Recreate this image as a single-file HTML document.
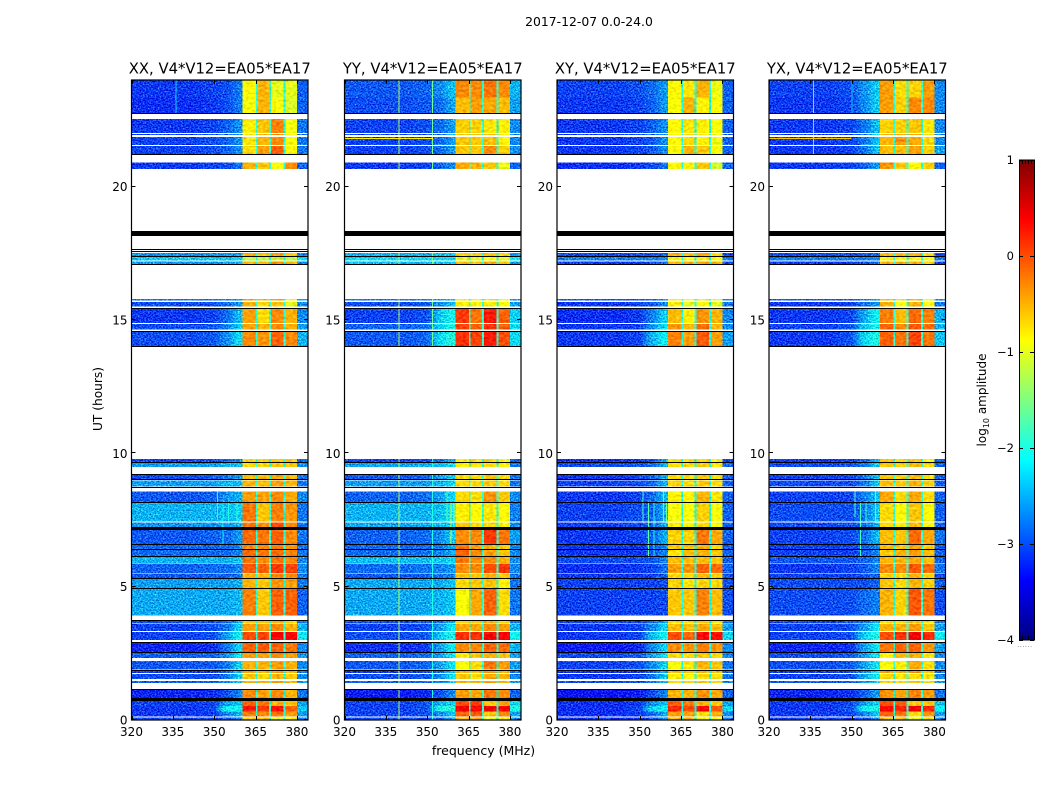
<!DOCTYPE html>
<html>
<head>
<meta charset="utf-8">
<title>2017-12-07 spectrogram</title>
<style>
html,body{margin:0;padding:0;background:#fff;width:1050px;height:800px;overflow:hidden}
svg{display:block;font-family:"DejaVu Sans","Liberation Sans",sans-serif;fill:#000}
</style>
</head>
<body>
<svg id="figure" width="1050" height="800" viewBox="0 0 1050 800" xmlns="http://www.w3.org/2000/svg">
<defs>
<filter id="speckle" filterUnits="userSpaceOnUse" x="100" y="70" width="880" height="660" color-interpolation-filters="sRGB">
<feGaussianBlur in="SourceGraphic" stdDeviation="4 0" result="soft"/>
<feComponentTransfer in="soft" result="solid"><feFuncA type="linear" slope="100"/></feComponentTransfer>
<feTurbulence type="fractalNoise" baseFrequency="0.6 0.7" numOctaves="2" seed="7" result="n"/>
<feColorMatrix in="n" type="matrix" values="1 0 0 0 0 1 0 0 0 0 1 0 0 0 0 0 0 0 0 1" result="g"/>
<feComposite in="solid" in2="g" operator="arithmetic" k1="0" k2="1" k3="1.1" k4="-0.55" result="c"/>
<feComposite in="c" in2="SourceAlpha" operator="in"/>
</filter>
<filter id="speckle-soft" filterUnits="userSpaceOnUse" x="100" y="70" width="880" height="660" color-interpolation-filters="sRGB">
<feTurbulence type="fractalNoise" baseFrequency="0.3 0.4" numOctaves="2" seed="11" result="n"/>
<feColorMatrix in="n" type="matrix" values="1 0 0 0 0 1 0 0 0 0 1 0 0 0 0 0 0 0 0 1" result="g"/>
<feComposite in="SourceGraphic" in2="g" operator="arithmetic" k1="0" k2="1" k3="0.4" k4="-0.2" result="c"/>
<feComposite in="c" in2="SourceAlpha" operator="in"/>
</filter>
</defs>
<text x="589" y="26" text-anchor="middle" font-size="12.4">2017-12-07 0.0-24.0</text>
<text x="483.5" y="755" text-anchor="middle" font-size="12.5">frequency (MHz)</text>
<text x="0" y="0" transform="translate(102,399) rotate(-90)" text-anchor="middle" font-size="12.2">UT (hours)</text>
<text x="0" y="0" transform="translate(986,400) rotate(-90)" text-anchor="middle" font-size="12">log<tspan font-size="8" dy="3">10</tspan><tspan dy="-3"> amplitude</tspan></text>
<g id="panels"></g>
<g id="colorbar"></g>
</svg>
<script>
// ---- data ----
const panelTitles = ["XX, V4*V12=EA05*EA17","YY, V4*V12=EA05*EA17","XY, V4*V12=EA05*EA17","YX, V4*V12=EA05*EA17"];
const freqTicks = [320,335,350,365,380];
const utTicks = [0,5,10,15,20];
const cbarTicks = [1,0,-1,-2,-3,-4];
const cbarLabels = ["1","0","\u22121","\u22122","\u22123","\u22124"];
// frequency channels (MHz): low, mid, rampA, rampB, blockA, blockB, blockC, blockD, edge
const channelStart = [320,345,352,357,360.3,365.7,370.5,375.8,380];
const channelEnd   = [345,352,357,360.3,365.1,369.9,375.2,380,384];
// narrow gaps between blocks (MHz)
const gapStart = [365.1,369.9,375.2];
const gapEnd   = [365.7,370.5,375.8];
const gapLevels = [-1.9,-1.9,-2.0,-1.9];
// observation rows (UT hours)
const rowStart = [0,0.13,0.32,0.52,0.81,1.39,1.53,1.77,1.89,2.32,2.55,3.00,3.34,3.62,3.91,4.95,5.33,5.51,5.89,6.14,6.42,6.59,7.22,7.44,8.18,8.75,9.04,9.49,9.68,14.03,14.64,14.89,15.50,15.73,17.10,17.24,17.39,20.66,21.23,21.57,21.94,22.02,22.77,23.35];
const rowEnd   = [0.09,0.32,0.52,0.72,1.14,1.46,1.73,1.87,2.21,2.53,2.88,3.30,3.60,3.72,4.92,5.30,5.49,5.87,6.11,6.39,6.56,7.13,7.40,8.15,8.56,8.98,9.19,9.64,9.78,14.56,14.85,15.41,15.67,15.78,17.20,17.36,17.52,20.90,21.53,21.87,21.97,22.53,23.35,24];
// black flagged rows (UT hours)
const flagStart = [0.72,1.14,1.87,2.53,2.88,3.72,4.92,5.30,6.11,6.39,6.56,7.13,8.15,8.72,9.01,9.19,9.65,13.98,14.56,15.41,17.07,17.36,17.54,17.64,18.15,21.17,22.71];
const flagEnd   = [0.81,1.17,1.89,2.55,2.92,3.75,4.95,5.33,6.14,6.42,6.59,7.22,8.18,8.75,9.04,9.22,9.68,14.03,14.60,15.45,17.10,17.39,17.58,17.68,18.34,21.23,22.77];
// log10 amplitude per row and channel
const valuesXX = [
[-3.0,-3.0,-3.0,-2.8,-0.6,-0.6,-1.0,-0.8,-2.8],
[-3.1,-3.1,-2.7,-2.5,-0.25,-0.3,-0.2,-0.4,-2.6],
[-3.1,-3.05,-2.1,-2.1,0.25,0.1,0.3,-0.1,-2.4],
[-3.05,-3.05,-2.6,-2.4,-0.1,-0.2,-0.5,-0.6,-2.6],
[-3.2,-3.15,-3.0,-2.7,-0.3,-0.4,-0.3,-0.5,-2.8],
[-2.9,-2.9,-2.7,-2.4,-0.5,-0.5,-0.4,-0.5,-2.6],
[-3.0,-3.0,-2.8,-2.3,-0.6,-0.7,-0.5,-0.6,-2.7],
[-3.1,-3.1,-2.9,-2.4,-0.4,-0.5,-0.4,-0.5,-2.8],
[-2.95,-2.95,-2.8,-2.3,-0.5,-0.5,-0.4,-0.5,-2.7],
[-2.9,-2.9,-2.7,-2.2,-0.4,-0.4,-0.3,-0.4,-2.6],
[-3.2,-3.15,-2.8,-2.3,-0.1,-0.05,-0.1,-0.2,-2.7],
[-3.05,-3.0,-2.6,-2.1,0.0,0.05,0.4,0.4,-2.2],
[-3.05,-3.0,-2.8,-2.3,-0.4,-0.4,-0.3,-0.5,-2.5],
[-3.0,-3.0,-2.9,-2.5,-0.6,-0.6,-0.5,-0.7,-2.8],
[-2.55,-2.55,-2.55,-2.45,-0.25,-0.6,-0.1,-0.1,-2.9],
[-2.6,-2.6,-2.6,-2.5,-0.5,-0.6,-0.35,-0.4,-2.8],
[-2.95,-2.9,-2.9,-2.8,-0.5,-0.5,-0.3,-0.3,-2.8],
[-2.9,-2.85,-2.85,-2.7,-0.05,-0.1,0.1,0.05,-2.7],
[-2.5,-2.5,-2.5,-2.4,-0.2,-0.3,-0.2,-0.3,-2.7],
[-2.85,-2.85,-2.85,-2.7,-0.15,-0.2,-0.15,-0.25,-2.8],
[-2.85,-2.85,-2.85,-2.7,-0.3,-0.3,-0.25,-0.35,-2.8],
[-2.95,-2.9,-2.85,-2.6,-0.15,-0.2,-0.1,-0.3,-2.8],
[-2.65,-2.65,-2.6,-2.5,-0.2,-0.3,0.0,-0.3,-2.8],
[-2.5,-2.5,-2.45,-2.35,-0.2,-0.6,-0.25,-0.35,-2.8],
[-2.95,-2.9,-2.65,-2.5,-0.4,-0.4,-0.3,-0.45,-2.7],
[-2.6,-2.6,-2.5,-2.45,-0.5,-0.55,-0.4,-0.5,-2.8],
[-3.0,-2.95,-2.8,-2.6,-0.55,-0.55,-0.45,-0.55,-2.8],
[-2.6,-2.6,-2.5,-2.4,-0.7,-0.7,-0.6,-0.6,-2.7],
[-3.05,-3.0,-2.85,-2.7,-0.7,-0.7,-0.6,-0.6,-2.8],
[-3.0,-2.95,-2.7,-2.25,-0.3,-0.35,-0.1,-0.3,-2.5],
[-3.0,-2.95,-2.75,-2.35,-0.4,-0.5,-0.3,-0.5,-2.6],
[-3.1,-3.05,-2.85,-2.4,-0.4,-0.7,-0.3,-0.5,-2.7],
[-3.0,-3.0,-2.85,-2.6,-0.5,-0.7,-0.6,-1.0,-2.7],
[-2.8,-2.8,-2.75,-2.6,-0.4,-0.5,-0.4,-0.8,-2.6],
[-2.65,-2.65,-2.6,-2.55,-0.5,-0.5,-0.3,-0.5,-2.7],
[-2.4,-2.4,-2.4,-2.35,-1.2,-1.2,-1.1,-1.2,-2.3],
[-2.65,-2.65,-2.6,-2.55,-0.5,-0.6,-0.4,-0.6,-2.7],
[-3.1,-3.05,-3.0,-2.8,-0.5,-0.6,-0.9,-0.3,-2.9],
[-3.05,-3.0,-2.9,-2.65,-0.7,-0.4,-0.1,-0.85,-2.8],
[-3.05,-3.0,-2.9,-2.65,-0.75,-0.5,-0.3,-0.9,-2.8],
[-3.05,-3.0,-2.9,-2.65,-0.75,-0.5,-0.3,-0.9,-2.8],
[-3.1,-3.05,-2.9,-2.65,-0.8,-0.6,-0.25,-0.9,-2.8],
[-3.15,-3.1,-3.0,-2.75,-0.9,-0.5,-0.9,-1.05,-2.9],
[-3.1,-3.05,-3.0,-2.75,-0.85,-0.5,-1.0,-1.0,-2.9]];
const valuesYY = [
[-3.0,-3.0,-2.9,-2.6,-0.5,-0.4,-1.0,-0.8,-2.6],
[-3.05,-3.0,-2.7,-2.4,-0.1,-0.1,-0.6,-0.3,-2.6],
[-3.05,-3.0,-2.0,-1.95,0.45,0.35,0.45,0.35,-2.0],
[-3.05,-3.0,-2.5,-2.3,0.0,0.1,-0.6,-0.4,-2.3],
[-3.25,-3.2,-3.0,-2.7,-0.4,-0.45,-0.2,-0.3,-2.9],
[-2.9,-2.9,-2.7,-2.4,-0.5,-0.5,-0.4,-0.5,-2.6],
[-3.0,-2.95,-2.7,-2.2,-0.6,-0.7,-0.45,-0.5,-2.7],
[-3.1,-3.05,-2.8,-2.4,-0.5,-0.5,-0.4,-0.5,-2.8],
[-2.95,-2.9,-2.6,-2.2,-0.9,-0.7,-0.2,-0.4,-2.6],
[-2.9,-2.85,-2.6,-2.2,-0.8,-0.6,-0.5,-0.6,-2.6],
[-3.15,-3.1,-2.6,-2.15,-0.3,-0.3,-0.1,-0.15,-2.5],
[-3.0,-2.95,-2.4,-2.0,0.15,0.15,0.45,0.4,-2.1],
[-3.05,-3.0,-2.6,-2.2,-0.45,-0.45,-0.3,-0.4,-2.5],
[-3.0,-3.0,-2.85,-2.5,-0.65,-0.6,-0.5,-0.7,-2.8],
[-2.55,-2.55,-2.5,-2.4,-0.9,-0.45,-0.1,-0.7,-2.8],
[-2.55,-2.55,-2.55,-2.4,-0.7,-0.6,-0.6,-0.8,-2.8],
[-2.95,-2.9,-2.85,-2.7,-0.6,-0.6,-0.5,-0.6,-2.8],
[-2.85,-2.8,-2.75,-2.6,-0.3,-0.3,0.0,0.1,-2.7],
[-2.45,-2.45,-2.4,-2.3,-0.2,-0.3,-0.3,-0.5,-2.7],
[-2.85,-2.8,-2.75,-2.5,-0.1,-0.3,-0.4,-0.6,-2.7],
[-2.85,-2.85,-2.75,-2.5,-0.2,-0.4,-0.5,-0.65,-2.7],
[-2.9,-2.85,-2.7,-2.35,-0.3,-0.3,0.1,-0.2,-2.6],
[-2.55,-2.55,-2.45,-2.3,-0.6,-0.7,-0.7,-0.8,-2.7],
[-2.5,-2.5,-2.45,-2.2,-0.8,-0.85,-0.75,-0.85,-2.75],
[-2.9,-2.85,-2.6,-2.3,-0.7,-0.7,-0.35,-0.6,-2.7],
[-2.6,-2.6,-2.5,-2.3,-0.7,-0.7,-0.6,-0.7,-2.8],
[-2.95,-2.9,-2.6,-2.4,-0.7,-0.7,-0.6,-0.7,-2.8],
[-2.55,-2.5,-2.45,-2.3,-0.8,-0.75,-0.7,-0.8,-2.8],
[-3.05,-3.0,-2.8,-2.5,-0.8,-0.7,-0.7,-0.85,-2.9],
[-2.95,-2.9,-2.3,-1.95,0.15,0.05,0.25,0.0,-2.3],
[-2.9,-2.85,-2.35,-2.0,0.05,-0.1,0.15,-0.1,-2.3],
[-3.05,-3.0,-2.4,-2.05,0.1,-0.2,0.25,-0.1,-2.35],
[-3.0,-2.95,-2.7,-2.4,-0.8,-0.8,-0.8,-0.9,-2.6],
[-2.8,-2.75,-2.6,-2.4,-0.8,-0.8,-0.7,-0.9,-2.6],
[-2.45,-2.45,-2.4,-2.4,-0.55,-0.55,-0.45,-0.55,-2.6],
[-2.3,-2.3,-2.3,-2.3,-1.0,-1.0,-0.9,-1.0,-2.2],
[-2.5,-2.5,-2.45,-2.4,-0.65,-0.65,-0.6,-0.7,-2.6],
[-3.1,-3.05,-2.9,-2.7,-0.45,-0.5,-0.6,-0.95,-2.9],
[-3.05,-3.0,-2.85,-2.6,-0.6,-0.6,-0.3,-0.65,-2.7],
[-3.05,-3.0,-2.85,-2.6,-0.6,-0.6,-0.55,-0.8,-2.7],
[-3.05,-3.0,-2.85,-2.6,-0.6,-0.6,-0.55,-0.8,-2.7],
[-3.05,-3.0,-2.85,-2.6,-0.65,-0.65,-0.75,-0.8,-2.7],
[-3.0,-2.95,-2.85,-2.55,-0.55,-0.4,-0.45,-0.55,-2.6],
[-2.95,-2.9,-2.7,-2.4,-0.3,-0.3,-0.2,-0.3,-2.5]];
const valuesXY = [
[-3.1,-3.1,-3.0,-2.7,-0.5,-0.5,-0.9,-0.8,-2.8],
[-3.15,-3.1,-2.85,-2.5,-0.4,-0.4,-0.7,-0.5,-2.7],
[-3.15,-3.05,-2.3,-2.15,0.2,0.0,0.35,-0.05,-2.3],
[-3.15,-3.1,-2.7,-2.4,-0.1,-0.25,-0.5,-0.6,-2.6],
[-3.3,-3.25,-3.0,-2.7,-0.5,-0.5,-0.35,-0.45,-2.9],
[-3.0,-3.0,-2.8,-2.5,-0.7,-0.7,-0.6,-0.7,-2.7],
[-3.1,-3.05,-2.8,-2.35,-0.8,-0.8,-0.7,-0.75,-2.8],
[-3.15,-3.1,-2.9,-2.5,-0.5,-0.6,-0.5,-0.55,-2.9],
[-3.05,-3.0,-2.7,-2.3,-0.9,-0.75,-0.5,-0.6,-2.8],
[-3.0,-2.95,-2.6,-2.25,-0.7,-0.7,-0.6,-0.7,-2.7],
[-3.25,-3.2,-2.7,-2.3,-0.3,-0.35,-0.25,-0.35,-2.7],
[-3.1,-3.05,-2.45,-2.1,0.0,-0.1,0.35,0.3,-2.3],
[-3.1,-3.05,-2.7,-2.3,-0.55,-0.55,-0.45,-0.55,-2.6],
[-3.05,-3.05,-2.9,-2.55,-0.7,-0.7,-0.6,-0.75,-2.8],
[-3.05,-3.05,-3.05,-3.0,-0.6,-0.6,-0.25,-0.55,-3.0],
[-3.05,-3.05,-3.05,-3.0,-0.65,-0.75,-0.65,-0.7,-3.0],
[-3.1,-3.1,-3.05,-2.9,-0.7,-0.7,-0.55,-0.65,-3.0],
[-3.15,-3.1,-3.05,-2.8,-0.4,-0.35,-0.1,-0.15,-2.9],
[-3.0,-3.0,-2.95,-2.7,-0.55,-0.55,-0.55,-0.6,-2.9],
[-3.1,-3.1,-3.0,-2.7,-0.75,-0.55,-0.5,-0.6,-2.9],
[-3.1,-3.1,-2.95,-2.7,-0.6,-0.6,-0.5,-0.7,-2.9],
[-3.1,-3.05,-2.9,-2.5,-0.65,-0.65,-0.2,-0.45,-2.9],
[-3.05,-3.0,-2.9,-2.5,-0.8,-0.85,-0.7,-0.9,-2.9],
[-3.05,-3.0,-2.9,-2.5,-0.9,-0.9,-0.65,-0.9,-2.9],
[-3.1,-3.05,-2.85,-2.45,-0.8,-0.8,-0.5,-0.75,-2.9],
[-3.05,-3.0,-2.9,-2.45,-0.65,-0.7,-0.6,-0.7,-2.9],
[-3.1,-3.05,-2.9,-2.5,-0.7,-0.7,-0.6,-0.7,-2.9],
[-3.0,-2.95,-2.9,-2.45,-0.75,-0.7,-0.65,-0.75,-2.9],
[-3.15,-3.1,-2.95,-2.5,-0.8,-0.75,-0.7,-0.85,-3.0],
[-3.1,-3.05,-2.5,-2.15,-0.25,-0.4,-0.05,-0.4,-2.6],
[-3.1,-3.05,-2.65,-2.25,-0.35,-0.5,-0.15,-0.5,-2.7],
[-3.15,-3.1,-2.75,-2.3,-0.55,-0.8,-0.35,-0.5,-2.7],
[-3.1,-3.05,-2.95,-2.65,-0.8,-1.0,-0.9,-1.0,-2.8],
[-2.95,-2.95,-2.9,-2.6,-0.8,-0.9,-0.8,-1.0,-2.7],
[-3.1,-3.1,-3.0,-2.85,-0.5,-0.5,-0.4,-0.5,-3.0],
[-2.75,-2.75,-2.75,-2.7,-0.9,-0.9,-0.8,-0.9,-2.8],
[-3.0,-3.0,-2.95,-2.85,-0.5,-0.6,-0.45,-0.7,-3.0],
[-3.15,-3.1,-3.0,-2.8,-0.85,-0.8,-0.6,-1.1,-2.9],
[-3.1,-3.05,-2.95,-2.65,-0.85,-0.5,-0.6,-0.9,-2.9],
[-3.1,-3.05,-2.95,-2.65,-0.85,-0.7,-0.8,-0.95,-2.9],
[-3.1,-3.05,-2.95,-2.65,-0.85,-0.7,-0.8,-0.95,-2.9],
[-3.1,-3.05,-2.9,-2.65,-0.85,-0.75,-0.8,-0.9,-2.9],
[-3.1,-3.05,-2.9,-2.6,-0.9,-0.5,-0.8,-0.9,-2.9],
[-3.05,-3.0,-2.85,-2.6,-0.85,-0.75,-0.5,-0.95,-2.9]];
const valuesYX = [
[-3.05,-3.05,-3.0,-2.7,-0.6,-0.6,-1.0,-0.8,-2.7],
[-3.1,-3.05,-2.75,-2.4,-0.1,-0.2,-0.7,-0.35,-2.6],
[-3.1,-3.0,-2.1,-2.0,0.35,0.2,0.45,0.2,-2.1],
[-3.1,-3.05,-2.6,-2.3,0.0,-0.05,-0.6,-0.6,-2.4],
[-3.2,-3.15,-2.9,-2.6,-0.35,-0.4,-0.25,-0.4,-2.8],
[-2.95,-2.95,-2.6,-2.3,-0.65,-0.7,-0.6,-0.7,-2.6],
[-3.05,-3.0,-2.55,-2.15,-0.7,-0.75,-0.7,-0.75,-2.7],
[-3.1,-3.05,-2.65,-2.25,-0.4,-0.45,-0.35,-0.6,-2.8],
[-3.0,-2.95,-2.6,-2.2,-0.9,-0.8,-0.45,-0.7,-2.7],
[-3.0,-2.95,-2.6,-2.2,-0.85,-0.55,-0.5,-0.75,-2.7],
[-3.2,-3.15,-2.6,-2.2,-0.2,-0.1,-0.1,-0.35,-2.6],
[-3.05,-3.0,-2.35,-2.0,0.0,0.15,0.45,0.2,-2.2],
[-3.05,-3.0,-2.6,-2.2,-0.5,-0.5,-0.4,-0.6,-2.6],
[-3.05,-3.0,-2.85,-2.5,-0.7,-0.7,-0.6,-0.75,-2.8],
[-3.0,-3.0,-2.85,-2.75,-0.5,-0.65,-0.05,-0.2,-3.0],
[-3.0,-3.0,-3.0,-2.9,-0.6,-0.7,-0.5,-0.65,-2.9],
[-3.05,-3.05,-3.0,-2.85,-0.65,-0.7,-0.5,-0.7,-3.0],
[-3.1,-3.05,-2.95,-2.7,-0.3,-0.3,-0.05,-0.15,-2.8],
[-2.95,-2.95,-2.9,-2.7,-0.5,-0.5,-0.45,-0.55,-2.9],
[-3.05,-3.05,-2.95,-2.7,-0.6,-0.5,-0.4,-0.55,-2.9],
[-3.05,-3.05,-2.9,-2.7,-0.55,-0.6,-0.45,-0.65,-2.9],
[-3.05,-3.0,-2.85,-2.45,-0.55,-0.6,-0.15,-0.45,-2.8],
[-3.0,-3.0,-2.85,-2.45,-0.7,-0.8,-0.55,-0.85,-2.9],
[-3.0,-3.0,-2.8,-2.4,-0.7,-0.85,-0.6,-0.85,-2.9],
[-3.05,-3.05,-2.75,-2.4,-0.45,-0.7,-0.45,-0.7,-2.9],
[-3.0,-3.0,-2.8,-2.35,-0.55,-0.6,-0.5,-0.65,-2.9],
[-3.05,-3.05,-2.8,-2.45,-0.6,-0.65,-0.55,-0.7,-2.9],
[-3.0,-2.95,-2.8,-2.35,-0.6,-0.65,-0.55,-0.7,-2.9],
[-3.1,-3.05,-2.85,-2.45,-0.6,-0.7,-0.6,-0.8,-2.9],
[-3.1,-3.0,-2.3,-2.0,-0.1,-0.2,0.05,-0.2,-2.4],
[-3.05,-3.0,-2.4,-2.05,-0.1,-0.3,-0.05,-0.15,-2.5],
[-3.1,-3.05,-2.55,-2.1,-0.25,-0.55,-0.15,-0.25,-2.5],
[-3.1,-3.05,-2.85,-2.6,-0.5,-0.9,-0.5,-0.85,-2.8],
[-2.95,-2.95,-2.8,-2.55,-0.55,-0.7,-0.5,-0.85,-2.7],
[-3.1,-3.1,-3.0,-2.85,-0.5,-0.5,-0.45,-0.6,-3.0],
[-2.75,-2.75,-2.75,-2.7,-0.85,-0.9,-0.85,-0.9,-2.8],
[-3.0,-3.0,-2.95,-2.85,-0.55,-0.55,-0.5,-0.7,-3.0],
[-3.1,-3.05,-2.9,-2.6,-0.35,-0.6,-0.85,-0.65,-2.9],
[-3.1,-3.05,-2.8,-2.4,-0.55,-0.55,-0.4,-0.65,-2.6],
[-3.1,-3.05,-2.8,-2.4,-0.5,-0.35,-0.45,-0.7,-2.7],
[-3.1,-3.05,-2.8,-2.4,-0.5,-0.45,-0.45,-0.7,-2.7],
[-3.1,-3.05,-2.8,-2.4,-0.65,-0.65,-0.6,-0.75,-2.7],
[-3.1,-3.05,-2.7,-2.35,-0.4,-0.65,-0.3,-0.3,-2.7],
[-3.05,-3.0,-2.65,-2.35,-0.4,-0.7,-0.65,-0.4,-2.7]];
const panelValues = [valuesXX,valuesYY,valuesXY,valuesYX];
// narrow spectral lines: frequency MHz, UT from, UT to, level
const linesXX = [[336,22.7,24,-2.3],[351,7.5,8.6,-2.0],[353,6.6,8.2,-2.1],[355,7.4,8.2,-2.0],[358,7.4,8.2,-1.9]];
const linesYY = [[339.6,0,24,-1.3],[351.7,14,24,-1.6],[351.7,0,10,-2.0],[357,7.4,8.6,-1.7],[358.5,6.6,8.2,-1.2],[359.5,7.4,8.2,-1.2]];
const linesXY = [[351,7.4,8.6,-1.8],[353,6.1,8.2,-1.7],[355,6.1,8.2,-2.0],[358.5,7.4,8.6,-1.7],[359.5,7.4,8.2,-1.6]];
const linesYX = [[336,21,24,-1.9],[350,22.7,24,-2.4],[351,7.6,8.6,-1.8],[353,6.1,8.2,-1.8],[355,7.4,8.2,-1.9],[358.5,7.4,8.6,-1.7]];
const panelLines = [linesXX,linesYY,linesXY,linesYX];
// narrow interference rows: UT, MHz from, MHz to, level
const rfiXX = [];
const rfiYY = [[21.83,320,352,-0.8]];
const rfiXY = [];
const rfiYX = [[21.83,320,350,-0.6]];
const panelRfi = [rfiXX,rfiYY,rfiXY,rfiYX];

// ---- geometry & scales ----
const SVGNS = "http://www.w3.org/2000/svg";
const panelLeft = [131.5,344.5,557,769];
const plotW = 176.5, plotTop = 80, plotBottom = 720;
const cbX0 = 1019, cbX1 = 1034, cbTop = 160, cbBottom = 640;
function xScale(f, left){ return left + (f - 320) * plotW / 64; }
function yScale(ut){ return plotBottom - ut * (plotBottom - plotTop) / 24; }
function cbScale(v){ return cbBottom - (v + 4) * (cbBottom - cbTop) / 5; }
function jet(level){
  const v = Math.max(0, Math.min(1, (level + 4) / 5));
  const ramp = (c) => Math.max(0, Math.min(1, 1.5 - Math.abs(4 * v - c)));
  const ch = (x) => Math.round(x * 255);
  return "rgb(" + ch(ramp(3)) + "," + ch(ramp(2)) + "," + ch(ramp(1)) + ")";
}
function make(tag, parent){
  const n = document.createElementNS(SVGNS, tag);
  parent.appendChild(n);
  return n;
}
function box(parent, x, y, w, h, fill){
  const r = make("rect", parent);
  r.setAttribute("x", x.toFixed(2));
  r.setAttribute("y", y.toFixed(2));
  r.setAttribute("width", Math.max(w, 0.5).toFixed(2));
  r.setAttribute("height", Math.max(h, 0.5).toFixed(2));
  r.setAttribute("fill", fill);
  r.setAttribute("shape-rendering", "crispEdges");
  return r;
}
function tick(parent, x1, y1, x2, y2){
  const l = make("line", parent);
  l.setAttribute("x1", x1);
  l.setAttribute("y1", y1);
  l.setAttribute("x2", x2);
  l.setAttribute("y2", y2);
  l.setAttribute("stroke", "#000");
  l.setAttribute("stroke-width", "1");
  l.setAttribute("shape-rendering", "crispEdges");
  return l;
}
function label(parent, x, y, anchor, size, str){
  const t = make("text", parent);
  t.setAttribute("x", x);
  t.setAttribute("y", y);
  t.setAttribute("text-anchor", anchor);
  t.setAttribute("font-size", size);
  t.textContent = str;
  return t;
}

// ---- panels ----
const panelsRoot = document.getElementById("panels");
panelTitles.forEach(function(title, p){
  const left = panelLeft[p], right = left + plotW;
  const g = make("g", panelsRoot);
  
  

  const noisy = make("g", g);
  noisy.setAttribute("filter", "url(#speckle)");
  
  
  const bright = make("g", g);
  bright.setAttribute("filter", "url(#speckle-soft)");
  
  

  panelValues[p].forEach(function(row, i){
    const y0 = yScale(rowEnd[i]), y1 = yScale(rowStart[i]);
    row.forEach(function(level, c){
      const x0 = xScale(channelStart[c], left), x1 = xScale(channelEnd[c], left);
      const isBlock = c >= 4 && c <= 7;
      const cell = box(isBlock ? bright : noisy, x0, y0, x1 - x0, y1 - y0, jet(level));
      
      
    });
    gapStart.forEach(function(f, c){
      const x0 = xScale(f, left), x1 = xScale(gapEnd[c], left);
      const gapCell = box(bright, x0, y0, x1 - x0, y1 - y0, jet(gapLevels[p]));
      
      
    });
  });

  // spectral lines only over rows with data
  panelLines[p].forEach(function(line){
    rowStart.forEach(function(start, i){
      const a = Math.max(start, line[1]), b = Math.min(rowEnd[i], line[2]);
      if (b <= a) return;
      const s = box(g, xScale(line[0], left), yScale(b), 1, yScale(a) - yScale(b), jet(line[3]));
      
      
    });
  });
  panelRfi[p].forEach(function(item){
    const x0 = xScale(item[1], left), x1 = xScale(item[2], left);
    const s = box(g, x0, yScale(item[0]), x1 - x0, 1, jet(item[3]));
    
    
  });

  flagStart.forEach(function(start, i){
    const y0 = Math.round(yScale(flagEnd[i])), y1 = Math.round(yScale(start));
    const f = box(g, left, y0, plotW, Math.max(y1 - y0, 1), "#000");
    
    
  });

  const frame = make("rect", g);
  frame.setAttribute("x", left);
  frame.setAttribute("y", plotTop);
  frame.setAttribute("width", plotW);
  frame.setAttribute("height", plotBottom - plotTop);
  frame.setAttribute("fill", "none");
  frame.setAttribute("stroke", "#000");
  frame.setAttribute("stroke-width", "1.2");
  
  

  const ttl = label(g, left + plotW / 2, 73.5, "middle", 14.8, title);
  
  

  freqTicks.forEach(function(f){
    const x = Math.round(xScale(f, left)) + 0.5;
    const b = tick(g, x, plotBottom, x, plotBottom - 4);
    
    
    const t = tick(g, x, plotTop, x, plotTop + 4);
    
    
    const lab = label(g, xScale(f, left), 736, "middle", 12, String(f));
    
    
  });
  utTicks.forEach(function(u){
    const y = Math.round(yScale(u)) - 0.5;
    const a = tick(g, left, y, left + 4, y);
    
    
    const c = tick(g, right, y, right - 4, y);
    
    
    const lab = label(g, left - 4, yScale(u) + 4.5, "end", 12, String(u));
    
    
  });
});

// ---- colorbar ----
const cb = document.getElementById("colorbar");
for (let py = cbTop; py < cbBottom; py++) {
  const lvl = -4 + (cbBottom - py - 0.5) * 5 / (cbBottom - cbTop);
  const seg = box(cb, cbX0, py, cbX1 - cbX0, 1, jet(lvl));
  
  
}
const cbFrame = make("rect", cb);
cbFrame.setAttribute("x", cbX0 + 0.5);
cbFrame.setAttribute("y", cbTop);
cbFrame.setAttribute("width", cbX1 - cbX0);
cbFrame.setAttribute("height", cbBottom - cbTop);
cbFrame.setAttribute("fill", "none");
cbFrame.setAttribute("stroke", "#000");
cbFrame.setAttribute("stroke-width", "1");


cbarTicks.forEach(function(v, i){
  const y = Math.round(cbScale(v));
  const a = tick(cb, cbX0, y + 0.5, cbX0 + 4, y + 0.5);
  
  
  const b = tick(cb, cbX1, y + 0.5, cbX1 - 4, y + 0.5);
  
  
  const lab = label(cb, cbX0 - 5, y + 4, "end", 11.5, cbarLabels[i]);
  
  
});
for (let m = 1; m <= 4; m++) {
  const mx = cbX0 + m * 3 + 0.5;
  const top = tick(cb, mx, cbTop, mx, cbTop + 4);
  
  
  const bottom = tick(cb, mx, cbBottom, mx, cbBottom - 4);
  
  
}
const minorDots = label(cb, cbX0 - 2, 647, "start", 8, "......");
minorDots.setAttribute("fill", "#999");


</script>
</body>
</html>
